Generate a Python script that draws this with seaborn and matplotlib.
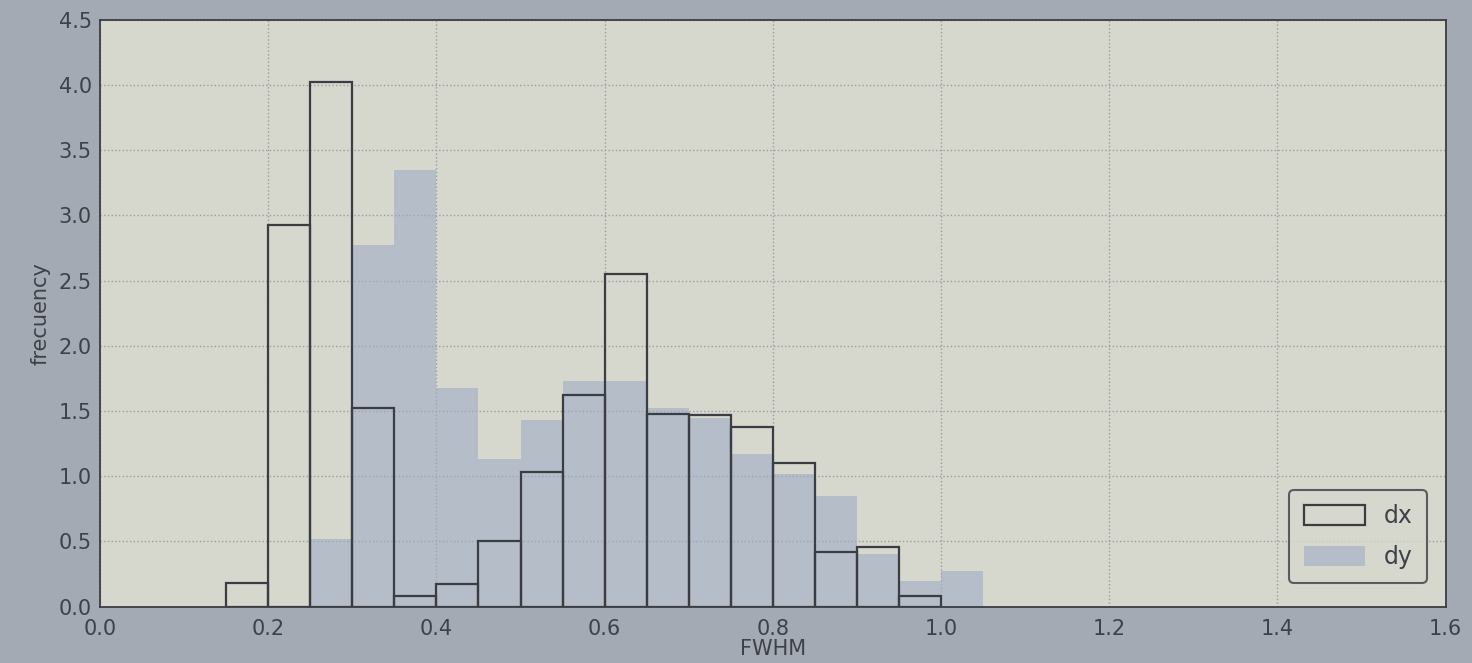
import numpy as np
import matplotlib
matplotlib.use("Agg")
import matplotlib.pyplot as plt
import seaborn as sns

# Histogram bin edges (width 0.05) and normalised heights for each series
dx_edges = [0.15, 0.20, 0.25, 0.30, 0.35, 0.40, 0.45, 0.50, 0.55, 0.60,
            0.65, 0.70, 0.75, 0.80, 0.85, 0.90, 0.95, 1.00]
dx_heights = [0.18, 2.93, 4.02, 1.52, 0.08, 0.17, 0.50, 1.03, 1.62,
              2.55, 1.48, 1.47, 1.38, 1.10, 0.42, 0.46, 0.08]

dy_edges = [0.25, 0.30, 0.35, 0.40, 0.45, 0.50, 0.55, 0.60, 0.65, 0.70,
            0.75, 0.80, 0.85, 0.90, 0.95, 1.00, 1.05]
dy_heights = [0.52, 2.77, 3.35, 1.68, 1.13, 1.43, 1.73, 1.73, 1.52,
              1.45, 1.17, 1.02, 0.85, 0.40, 0.20, 0.27]

x_ticks = [0.0, 0.2, 0.4, 0.6, 0.8, 1.0, 1.2, 1.4, 1.6]
y_ticks = [0.0, 0.5, 1.0, 1.5, 2.0, 2.5, 3.0, 3.5, 4.0, 4.5]

sns.set_style("white")
plt.rcParams["font.family"] = ["DejaVu Sans"]

edge = "#3a3d42"
text_col = "#3e4248"

fig = plt.figure(figsize=(14.72, 6.63), dpi=100, facecolor="#a4aab4")
ax = fig.add_axes([0.068, 0.085, 0.914, 0.885])
ax.set_facecolor("#d6d8ce")

dx_centers = [(a + b) / 2 for a, b in zip(dx_edges[:-1], dx_edges[1:])]
dy_centers = [(a + b) / 2 for a, b in zip(dy_edges[:-1], dy_edges[1:])]

sns.histplot(x=dy_centers, weights=dy_heights, bins=dy_edges, stat="count",
             color="#9fabc6", alpha=0.6, edgecolor="none", linewidth=0,
             ax=ax, label="dy", zorder=2)
sns.histplot(x=dx_centers, weights=dx_heights, bins=dx_edges, stat="count",
             fill=False, color=edge, edgecolor=edge, linewidth=1.6,
             ax=ax, label="dx", zorder=3)

ax.set_xlim(0, 1.6)
ax.set_ylim(0, 4.5)
ax.set_xticks(x_ticks)
ax.set_yticks(y_ticks)
ax.set_xticklabels([f"{v:.1f}" for v in x_ticks])
ax.set_yticklabels([f"{v:.1f}" for v in y_ticks])
ax.tick_params(axis="both", labelsize=15, colors=text_col, direction="in",
               length=5, width=1)
ax.tick_params(axis="x", pad=9)
ax.tick_params(axis="y", pad=6)
ax.grid(True, linestyle=":", color="#9a9da2", linewidth=1, zorder=0)
ax.set_axisbelow(True)
for s in ax.spines.values():
    s.set_color(edge)
    s.set_linewidth(1.3)

ax.set_xlabel("FWHM", fontsize=15, color=text_col, labelpad=0)
ax.set_ylabel("frecuency", fontsize=15, color=text_col, labelpad=6)

handles, labels = ax.get_legend_handles_labels()
order = [labels.index("dx"), labels.index("dy")]
leg = ax.legend([handles[i] for i in order], [labels[i] for i in order],
                loc="lower right", fontsize=17, frameon=True, fancybox=True,
                handlelength=2.6, handleheight=0.9, borderpad=0.6,
                labelspacing=0.7, bbox_to_anchor=(0.995, 0.02))
leg.get_frame().set_facecolor("#d6d8ce")
leg.get_frame().set_edgecolor(edge)
leg.get_frame().set_linewidth(1.5)
for t in leg.get_texts():
    t.set_color(text_col)

fig.savefig("out.png", dpi=100, facecolor=fig.get_facecolor())
